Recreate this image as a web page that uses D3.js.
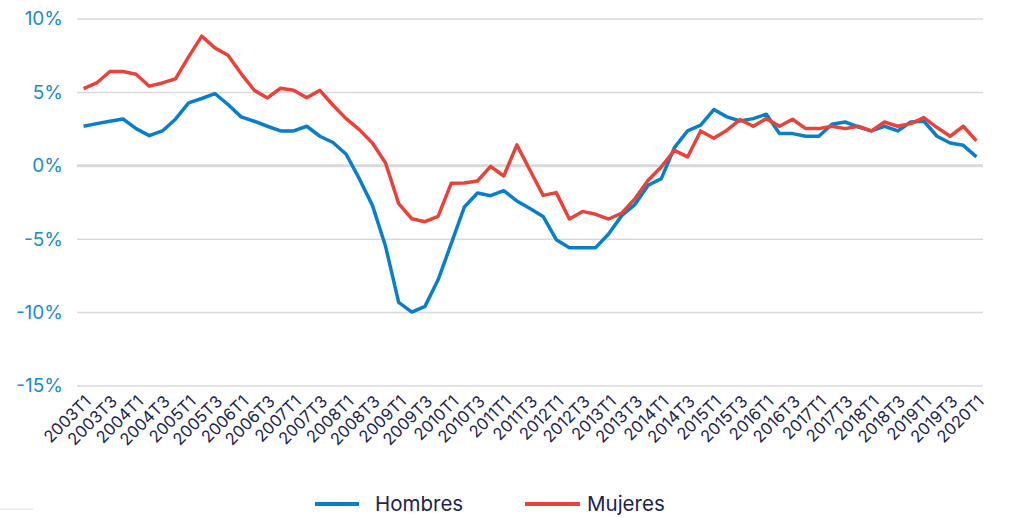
<!DOCTYPE html>
<html>
<head>
<meta charset="utf-8">
<script src="https://cdn.jsdelivr.net/npm/d3@7/dist/d3.min.js"></script>
<style>
  html, body { margin: 0; padding: 0; background: #ffffff; }
  svg { display: block; }
</style>
</head>
<body>
<svg id="chart" width="1027" height="518"></svg>
<script>
const categories = [
  "2003T1","2003T2","2003T3","2003T4","2004T1","2004T2","2004T3","2004T4",
  "2005T1","2005T2","2005T3","2005T4","2006T1","2006T2","2006T3","2006T4",
  "2007T1","2007T2","2007T3","2007T4","2008T1","2008T2","2008T3","2008T4",
  "2009T1","2009T2","2009T3","2009T4","2010T1","2010T2","2010T3","2010T4",
  "2011T1","2011T2","2011T3","2011T4","2012T1","2012T2","2012T3","2012T4",
  "2013T1","2013T2","2013T3","2013T4","2014T1","2014T2","2014T3","2014T4",
  "2015T1","2015T2","2015T3","2015T4","2016T1","2016T2","2016T3","2016T4",
  "2017T1","2017T2","2017T3","2017T4","2018T1","2018T2","2018T3","2018T4",
  "2019T1","2019T2","2019T3","2019T4","2020T1"
];

const hombres = [
  2.66, 2.84, 3.0, 3.16, 2.5, 2.02, 2.34, 3.14,
  4.25, 4.55, 4.89, 4.14, 3.3, 3.0, 2.66, 2.34,
  2.34, 2.66, 1.98, 1.55, 0.75, -0.91, -2.73, -5.52,
  -9.34, -10.0, -9.61, -7.8, -5.34, -2.84, -1.89, -2.07,
  -1.73, -2.43, -2.95, -3.48, -5.07, -5.61, -5.61, -5.61,
  -4.66, -3.41, -2.66, -1.36, -0.91, 1.2, 2.34, 2.73,
  3.8, 3.3, 3.02, 3.18, 3.48, 2.16, 2.16, 1.98,
  1.98, 2.8, 2.95, 2.61, 2.34, 2.66, 2.34, 2.95,
  3.0, 1.98, 1.52, 1.36, 0.57
];

const mujeres = [
  5.23, 5.61, 6.39, 6.39, 6.2, 5.39, 5.61, 5.89,
  7.39, 8.8, 8.0, 7.5, 6.25, 5.11, 4.59, 5.25,
  5.11, 4.6, 5.11, 4.09, 3.18, 2.43, 1.52, 0.16,
  -2.61, -3.64, -3.84, -3.48, -1.23, -1.2, -1.07, -0.07,
  -0.73, 1.39, -0.34, -2.05, -1.86, -3.66, -3.14, -3.34,
  -3.66, -3.25, -2.27, -1.02, -0.11, 1.02, 0.57, 2.34,
  1.84, 2.39, 3.11, 2.66, 3.18, 2.66, 3.14, 2.5,
  2.5, 2.66, 2.5, 2.66, 2.34, 2.95, 2.66, 2.84,
  3.25, 2.57, 1.98, 2.66, 1.66
];

const tickLabels = categories.filter((d, i) => i % 2 === 0);
const yTicks = [-15, -10, -5, 0, 5, 10];
const seriesNames = ["Hombres", "Mujeres"];
const seriesColors = ["#0a7fc9", "#e8433a"];

const svg = d3.select("#chart");
const font = "Inter, 'Open Sans', sans-serif";

const x = d3.scalePoint().domain(categories).range([77, 983]).padding(0.5);
const y = d3.scaleLinear().domain([-15, 10]).range([385.5, 18.5]);

// gridlines + y labels
const yAxis = d3.axisLeft(y).tickValues(yTicks).tickSize(-(983 - 77)).tickFormat(d => d + "%");
const gy = svg.append("g").attr("transform", "translate(77,0)").call(yAxis);
gy.select(".domain").remove();
gy.selectAll(".tick line")
  .attr("stroke", "#d9d9d9")
  .attr("stroke-width", d => d === 0 ? 3 : 1.5);
gy.selectAll(".tick text")
  .attr("x", -14)
  .attr("dy", "0.34em")
  .attr("fill", "#1a8ad4")
  .style("font-family", font)
  .style("font-size", "19px");

// x axis labels
const xAxis = d3.axisBottom(x).tickValues(tickLabels).tickSize(0);
const gx = svg.append("g").attr("transform", "translate(0,385.5)").call(xAxis);
gx.select(".domain").remove();
gx.selectAll(".tick text")
  .attr("fill", "#1b2452")
  .style("font-family", font)
  .style("font-size", "16.5px")
  .attr("text-anchor", "end")
  .attr("x", 0).attr("y", 0).attr("dy", 0)
  .attr("transform", "translate(8,17) rotate(-45)");

// lines
const line = d3.line().x((d, i) => x(categories[i])).y(d => y(d));
[hombres, mujeres].forEach((vals, k) => {
  svg.append("path")
    .datum(vals)
    .attr("d", line)
    .attr("fill", "none")
    .attr("stroke", seriesColors[k])
    .attr("stroke-width", 3.5)
    .attr("stroke-linejoin", "round");
});

// legend
const legendX = [315, 525];
seriesNames.forEach((name, k) => {
  const g = svg.append("g").attr("transform", `translate(${legendX[k]},504)`);
  g.append("line").attr("x1", 0).attr("x2", k === 0 ? 44 : 55).attr("y1", 0).attr("y2", 0)
    .attr("stroke", seriesColors[k]).attr("stroke-width", 4);
  g.append("text").attr("x", k === 0 ? 60 : 62).attr("y", 0).attr("dy", "0.35em")
    .attr("fill", "#1b2452").style("font-family", font).style("font-size", "20.5px")
    .text(name);
});

// small decorative rule bottom-left
svg.append("line").attr("x1", 0).attr("x2", 33).attr("y1", 509).attr("y2", 509)
  .attr("stroke", "#e0e0e0").attr("stroke-width", 1);
</script>
</body>
</html>
